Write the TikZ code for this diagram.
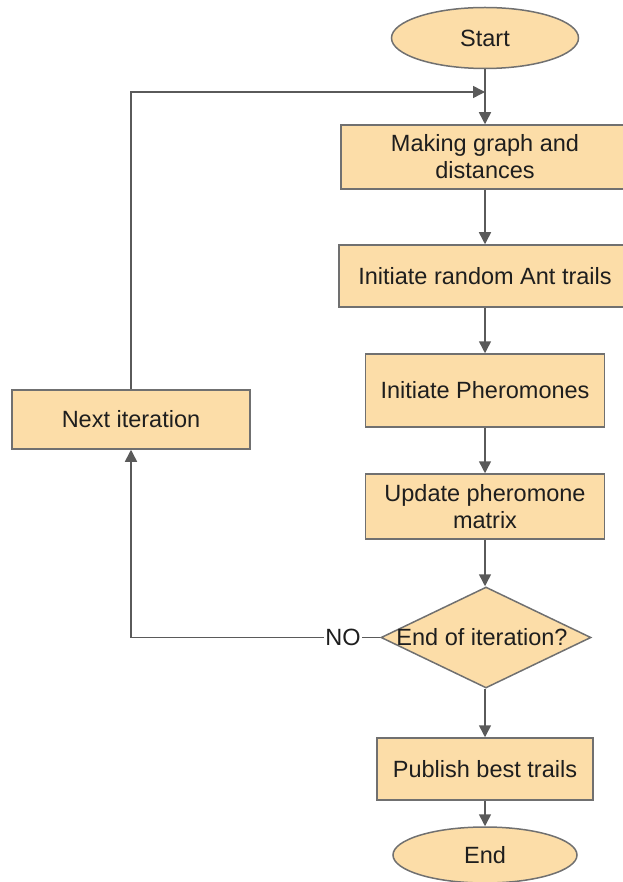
\documentclass[tikz,border=0pt]{standalone}
\usepackage{fontspec}
\setmainfont{Liberation Sans}
\usetikzlibrary{arrows.meta,shapes.geometric}
\definecolor{boxfill}{RGB}{252,221,168}
\definecolor{boxline}{RGB}{112,112,112}
\definecolor{conn}{RGB}{90,90,90}
\definecolor{txt}{RGB}{30,30,30}
\begin{document}
\begin{tikzpicture}[x=1pt,y=-1pt,
  every node/.style={font=\fontsize{23.5}{27}\selectfont, text=txt, align=center},
  procbox/.style={rectangle, draw=boxline, fill=boxfill, line width=1.5pt, inner sep=0pt},
  termnode/.style={ellipse, draw=boxline, fill=boxfill, line width=1.5pt, inner sep=0pt},
  decnode/.style={diamond, draw=boxline, fill=boxfill, line width=1.5pt, inner sep=0pt},
  conn/.style={draw=conn, line width=1.5pt, -{Triangle[length=12pt,width=12pt]}},
  plain/.style={draw=conn, line width=1.5pt}
]
\useasboundingbox (0,0) rectangle (622,882);
\node[termnode, minimum width=187pt, minimum height=61pt] (start) at (485,38) {Start};
\node[procbox, minimum width=288pt, minimum height=64pt] (b1) at (485,157) {Making graph and\\distances};
\node[procbox, minimum width=292pt, minimum height=62pt] (b2) at (485,276) {Initiate random Ant trails};
\node[procbox, minimum width=239pt, minimum height=73pt] (b3) at (485,390.5) {Initiate Pheromones};
\node[procbox, minimum width=239pt, minimum height=65pt] (b4) at (485,506.5) {Update pheromone\\matrix};
\node[decnode, minimum width=210pt, minimum height=101pt] (dec) at (486,637.5) {};
\node (dect) at (482,637.5) {End of iteration?};
\node[procbox, minimum width=216pt, minimum height=62pt] (pub) at (485,769) {Publish best trails};
\node[termnode, minimum width=184pt, minimum height=56pt] (end) at (485,855) {End};
\node[procbox, minimum width=238pt, minimum height=59pt] (next) at (131,419.5) {Next iteration};
\node[fill=white, inner sep=1pt] (no) at (343,637.5) {NO};
\coordinate (join) at (485,92);
\coordinate (corner1) at (131,637.5);
\coordinate (corner2) at (131,92);

\draw[conn] (start.south) -- (b1.north);
\draw[conn] (b1.south) -- (b2.north);
\draw[conn] (b2.south) -- (b3.north);
\draw[conn] (b3.south) -- (b4.north);
\draw[conn] (b4.south) -- (b4.south |- dec.north);
\draw[conn] (pub.north |- dec.south) -- (pub.north);
\draw[conn] (pub.south) -- (end.north);
\draw[plain] (dec.west) -- (no.east);
\draw[conn] (no.west) -- (corner1) -- (next.south);
\draw[conn] (next.north) -- (corner2) -- (join);
\end{tikzpicture}
\end{document}
